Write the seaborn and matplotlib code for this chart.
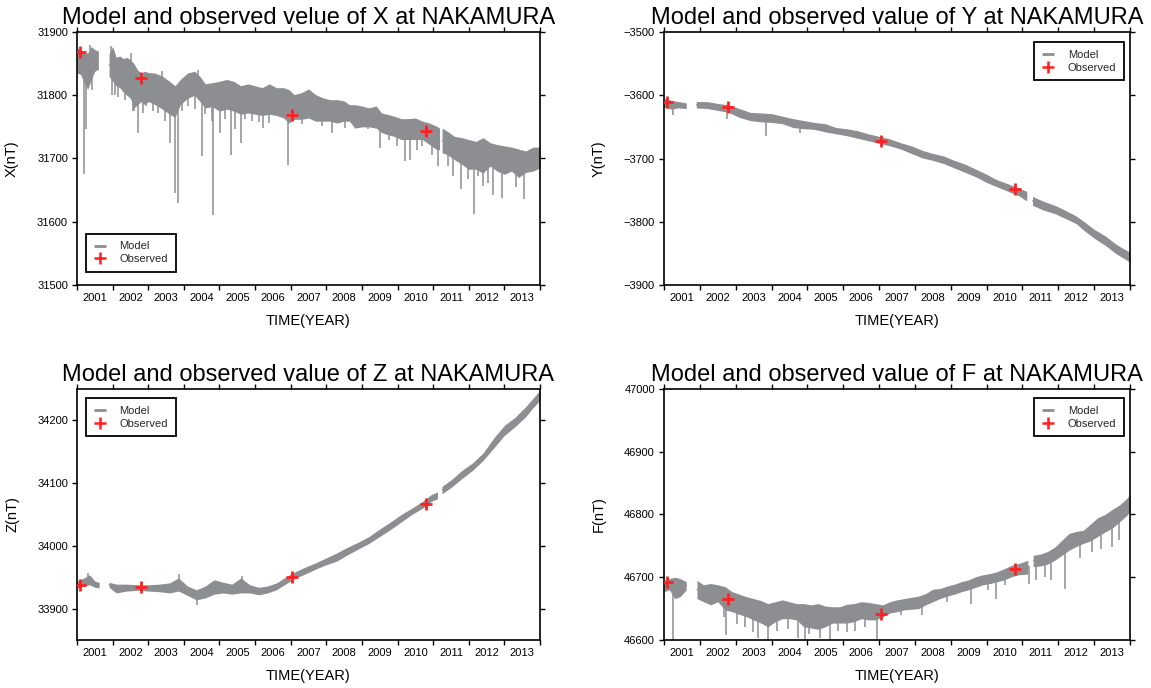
import numpy as np
import pandas as pd
import matplotlib
matplotlib.use("Agg")
import matplotlib.pyplot as plt
from matplotlib.lines import Line2D
import seaborn as sns

sns.set_theme(style="ticks")
plt.rcParams["font.family"] = ["Liberation Sans", "DejaVu Sans"]
plt.rcParams["axes.unicode_minus"] = True

# ---------------------------------------------------------------- data
year_labels = [str(y) for y in range(2001, 2014)]
data_gaps = [2001.75, 2011.21]          # recording breaks split the model trace

obs_time = [2001.09, 2002.79, 2007.04, 2010.79]

# X component
x_time = [2001.00, 2001.10, 2001.20, 2001.30, 2001.40, 2001.50, 2001.60,
          2001.90, 2002.00, 2002.10, 2002.20, 2002.30, 2002.40, 2002.50, 2002.60, 2002.70, 2002.80, 2002.90,
          2003.00, 2003.20, 2003.40, 2003.60, 2003.75, 2003.90,
          2004.10, 2004.30, 2004.45, 2004.60, 2004.80,
          2005.00, 2005.20, 2005.40, 2005.60, 2005.80,
          2006.00, 2006.20, 2006.40, 2006.60, 2006.80, 2006.95,
          2007.10, 2007.30, 2007.50, 2007.70, 2007.90,
          2008.10, 2008.30, 2008.50, 2008.65, 2008.80,
          2009.00, 2009.20, 2009.40, 2009.55, 2009.70, 2009.90,
          2010.10, 2010.30, 2010.50, 2010.70, 2010.90,
          2011.10, 2011.18,
          2011.25, 2011.40, 2011.60, 2011.80, 2012.00, 2012.20, 2012.40, 2012.60,
          2012.80, 2013.00, 2013.20, 2013.40, 2013.60, 2013.80, 2014.00]
x_upper = [31875, 31872, 31867, 31867, 31877, 31872, 31870,
           31865, 31877, 31860, 31862, 31858, 31860, 31856, 31850, 31840, 31835, 31838,
           31836, 31835, 31830, 31822, 31815, 31825,
           31835, 31838, 31830, 31818, 31820,
           31822, 31825, 31822, 31815, 31818,
           31815, 31812, 31818, 31812, 31812, 31809,
           31801, 31804, 31810, 31801, 31796,
           31793, 31793, 31791, 31785, 31785,
           31783, 31780, 31783, 31772, 31770, 31767,
           31763, 31763, 31764, 31759, 31756,
           31751, 31748,
           31748, 31743, 31735, 31733, 31730, 31727, 31733, 31725,
           31722, 31720, 31718, 31715, 31712, 31718, 31718]
x_lower = [31835, 31833, 31820, 31809, 31825, 31838, 31841,
           31830, 31822, 31815, 31812, 31805, 31800, 31795, 31780, 31785, 31790, 31785,
           31790, 31785, 31778, 31770, 31765, 31785,
           31795, 31800, 31790, 31780, 31782,
           31775, 31778, 31775, 31770, 31772,
           31770, 31768, 31770, 31768, 31764, 31756,
           31762, 31762, 31764, 31759, 31759,
           31759, 31756, 31759, 31759, 31748,
           31750, 31750, 31748, 31741, 31738, 31735,
           31730, 31730, 31730, 31730, 31722,
           31714, 31714,
           31709, 31706, 31698, 31691, 31683, 31683, 31677, 31688,
           31680, 31675, 31680, 31670, 31678, 31680, 31685]
x_spike_time = [2001.21, 2001.25, 2001.37, 2001.41, 2001.95, 2001.97, 2002.07, 2002.16,
                2002.35, 2002.53, 2002.58, 2002.60, 2002.72, 2002.86, 2002.95,
                2003.14, 2003.28, 2003.38, 2003.47, 2003.61, 2003.75, 2003.83, 2003.95,
                2004.13, 2004.32, 2004.41, 2004.52, 2004.60, 2004.78, 2004.81,
                2005.02, 2005.16, 2005.33, 2005.44, 2005.60, 2005.72, 2005.91,
                2006.10, 2006.23, 2006.39, 2006.56, 2006.92,
                2007.31, 2007.87, 2008.15, 2008.53, 2009.18, 2009.51, 2009.75, 2009.98,
                2010.21, 2010.35, 2010.54, 2010.68, 2010.96,
                2011.13, 2011.43, 2011.57, 2011.78, 2011.99, 2012.15, 2012.27, 2012.41,
                2012.55, 2012.67, 2012.94, 2013.33, 2013.55]
x_spike_value = [31675, 31746, 31880, 31809, 31878, 31801, 31801, 31798,
                 31793, 31867, 31775, 31775, 31741, 31772, 31783,
                 31775, 31772, 31838, 31760, 31725, 31646, 31630, 31775,
                 31783, 31778, 31840, 31704, 31770, 31759, 31610,
                 31741, 31762, 31705, 31746, 31725, 31762, 31760,
                 31757, 31748, 31756, 31775, 31690,
                 31754, 31751, 31741, 31748, 31746, 31717, 31730, 31719,
                 31696, 31698, 31714, 31719, 31706,
                 31688, 31688, 31672, 31651, 31667, 31612, 31672, 31656,
                 31662, 31643, 31638, 31655, 31636]
x_obs = [31868, 31827, 31768, 31744]

# Y component
y_time = [2001.00, 2001.20, 2001.40, 2001.62,
          2001.90, 2002.20, 2002.50, 2002.80, 2003.10, 2003.40, 2003.70, 2004.00,
          2004.30, 2004.60, 2004.90, 2005.20, 2005.50, 2005.80, 2006.10, 2006.40,
          2006.70, 2007.00, 2007.30, 2007.60, 2007.90, 2008.20, 2008.50, 2008.80,
          2009.10, 2009.40, 2009.70, 2010.00, 2010.30, 2010.60, 2010.90, 2011.12,
          2011.28, 2011.60, 2011.90, 2012.20, 2012.50, 2012.70, 2013.00, 2013.30,
          2013.60, 2013.80, 2014.00]
y_upper = [-3605, -3608, -3610, -3612,
           -3610, -3610, -3613, -3615, -3621, -3627, -3628, -3629,
           -3633, -3637, -3640, -3643, -3645, -3651, -3653, -3656,
           -3661, -3665, -3669, -3675, -3680, -3687, -3692, -3696,
           -3703, -3709, -3717, -3725, -3734, -3740, -3747, -3752,
           -3760, -3768, -3774, -3782, -3791, -3799, -3812, -3822,
           -3835, -3842, -3848]
y_lower = [-3619, -3622, -3620, -3621,
           -3620, -3621, -3624, -3627, -3635, -3640, -3642, -3643,
           -3645, -3651, -3653, -3654, -3658, -3661, -3664, -3668,
           -3672, -3676, -3680, -3685, -3692, -3699, -3703, -3708,
           -3715, -3722, -3729, -3738, -3745, -3752, -3759, -3767,
           -3774, -3782, -3787, -3795, -3803, -3813, -3826, -3837,
           -3850, -3857, -3864]
y_spike_time = [2001.26, 2002.76, 2003.85, 2004.80]
y_spike_value = [-3632, -3638, -3665, -3660]
y_obs = [-3611, -3618, -3673, -3748]

# Z component
z_time = [2001.00, 2001.20, 2001.35, 2001.50, 2001.62,
          2001.90, 2002.10, 2002.40, 2002.70, 2003.00, 2003.30, 2003.60, 2003.85,
          2004.10, 2004.35, 2004.60, 2004.85, 2005.10, 2005.35, 2005.60, 2005.85,
          2006.10, 2006.35, 2006.60, 2006.85, 2007.10, 2007.40, 2007.70,
          2008.00, 2008.30, 2008.60, 2008.90, 2009.20, 2009.50, 2009.80,
          2010.10, 2010.40, 2010.70, 2010.95, 2011.12,
          2011.25, 2011.50, 2011.80, 2012.10, 2012.40, 2012.70, 2013.00, 2013.30,
          2013.60, 2013.80, 2014.00]
z_upper = [33944, 33949, 33954, 33944, 33942,
           33942, 33939, 33939, 33938, 33938, 33939, 33941, 33949,
           33936, 33930, 33936, 33946, 33942, 33939, 33949, 33938,
           33934, 33936, 33941, 33950, 33958, 33966, 33973,
           33981, 33989, 33998, 34006, 34015, 34027, 34038,
           34050, 34060, 34071, 34082, 34086,
           34095, 34105, 34120, 34132, 34148, 34172, 34192, 34205,
           34222, 34235, 34248]
z_lower = [33933, 33936, 33938, 33934, 33933,
           33934, 33925, 33928, 33929, 33928, 33927, 33925, 33928,
           33921, 33914, 33917, 33923, 33925, 33923, 33925, 33925,
           33922, 33925, 33930, 33939, 33948, 33955, 33963,
           33970, 33976, 33986, 33995, 34004, 34015, 34026,
           34038, 34050, 34060, 34071, 34075,
           34083, 34093, 34107, 34120, 34136, 34156, 34176, 34190,
           34206, 34220, 34232]
z_spike_time = [2001.30, 2003.85, 2004.38, 2005.62]
z_spike_value = [33957, 33955, 33906, 33952]
z_obs = [33937, 33934, 33951, 34067]

# F (total intensity)
f_time = [2001.00, 2001.15, 2001.30, 2001.45, 2001.62,
          2001.92, 2002.10, 2002.30, 2002.50, 2002.70, 2002.90,
          2003.10, 2003.30, 2003.50, 2003.70, 2003.90,
          2004.10, 2004.30, 2004.50, 2004.70, 2004.90,
          2005.10, 2005.30, 2005.50, 2005.70, 2005.90,
          2006.10, 2006.30, 2006.50, 2006.70, 2006.90,
          2007.10, 2007.30, 2007.50, 2007.70, 2007.90,
          2008.10, 2008.30, 2008.50, 2008.70, 2008.90,
          2009.10, 2009.30, 2009.50, 2009.70, 2009.90,
          2010.10, 2010.30, 2010.50, 2010.70, 2010.90, 2011.15,
          2011.30, 2011.50, 2011.70, 2011.90, 2012.10, 2012.30, 2012.50, 2012.70,
          2012.90, 2013.10, 2013.30, 2013.50, 2013.70, 2013.90, 2014.00]
f_upper = [46695, 46698, 46700, 46698, 46693,
           46695, 46688, 46690, 46688, 46685, 46677,
           46673, 46669, 46666, 46663, 46658,
           46661, 46664, 46661, 46658, 46658,
           46656, 46658, 46654, 46653, 46653,
           46657, 46658, 46661, 46660, 46658,
           46656, 46661, 46664, 46666, 46668,
           46670, 46674, 46681, 46682, 46686,
           46689, 46693, 46696, 46701, 46704,
           46706, 46709, 46714, 46719, 46722, 46727,
           46735, 46737, 46741, 46748, 46759, 46770, 46773, 46775,
           46785, 46795, 46800, 46808, 46815, 46825, 46832]
f_lower = [46677, 46680, 46666, 46669, 46680,
           46666, 46661, 46656, 46661, 46648, 46645,
           46641, 46637, 46632, 46627, 46621,
           46629, 46634, 46634, 46632, 46621,
           46619, 46617, 46621, 46627, 46627,
           46627, 46629, 46634, 46632, 46632,
           46637, 46643, 46645, 46648, 46649,
           46650, 46656, 46661, 46666, 46670,
           46673, 46677, 46680, 46684, 46688,
           46690, 46693, 46696, 46701, 46704, 46705,
           46717, 46718, 46721, 46727, 46735, 46743, 46749, 46754,
           46758, 46765, 46772, 46778, 46788, 46798, 46805]
f_spike_time = [2001.26, 2002.67, 2002.74, 2003.05, 2003.25, 2003.47, 2003.61, 2003.89,
                2004.15, 2004.45, 2004.73, 2004.92, 2005.05, 2005.34, 2005.62, 2005.85,
                2006.10, 2006.33, 2006.60, 2006.95, 2007.60, 2008.20, 2008.90, 2009.56,
                2010.05, 2010.27, 2010.50, 2011.17, 2011.39, 2011.62, 2011.81, 2012.19,
                2012.60, 2012.95, 2013.20, 2013.50, 2013.70]
f_spike_value = [46600, 46637, 46608, 46625, 46620, 46612, 46603, 46600,
                 46615, 46618, 46603, 46600, 46610, 46603, 46600, 46615,
                 46612, 46614, 46620, 46600, 46640, 46640, 46660, 46658,
                 46680, 46666, 46688, 46690, 46696, 46701, 46696, 46682,
                 46730, 46740, 46745, 46748, 46760]
f_obs = [46693, 46665, 46641, 46713]

# ---------------------------------------------------------------- style
MODEL_GRAY = "#8d8e92"
OBS_RED = "#ff2020"
W, H = 1151, 688

fig = plt.figure(figsize=(W / 100, H / 100), dpi=100)
fig.patch.set_facecolor("white")


def add_axes_px(left, right, top, bottom):
    return fig.add_axes([left / W, 1 - bottom / H, (right - left) / W, (bottom - top) / H])


def draw_panel(ax, comp, title, t, upper, lower, spike_t, spike_v, obs_v,
               ylim, yticks, legend_loc, legend_anchor):
    t = np.asarray(t, float)
    upper = np.asarray(upper, float)
    lower = np.asarray(lower, float)
    seg = np.digitize(t, data_gaps)
    long = pd.DataFrame({"time": np.r_[t, t],
                         "value": np.r_[upper, lower],
                         "segment": np.r_[seg, seg]})
    palette = {s: MODEL_GRAY for s in np.unique(seg)}
    # model trace: daily spread shown as min/max band around the mean
    sns.lineplot(data=long, x="time", y="value", hue="segment", palette=palette,
                 estimator="mean", errorbar=("pi", 100),
                 err_kws={"alpha": 1.0, "linewidth": 0},
                 linewidth=0.8, legend=False, ax=ax, zorder=2)
    # short disturbance excursions of the model trace
    base = np.interp(spike_t, t, (upper + lower) / 2)
    ax.vlines(spike_t, base, spike_v, color=MODEL_GRAY, linewidth=1.1, zorder=2)
    # observed absolute values
    sns.scatterplot(x=obs_time, y=obs_v, marker="+", s=75, color=OBS_RED,
                    linewidth=2.0, ax=ax, zorder=5, legend=False)

    ax.set_xlim(2001, 2014)
    ax.set_ylim(*ylim)
    ax.set_yticks(yticks)
    ax.set_xticks(np.arange(2001, 2015))
    ax.set_xticks(np.arange(2001.5, 2014), minor=True)
    ax.set_xticklabels([], minor=False)
    ax.set_xticklabels(year_labels, minor=True)
    ax.tick_params(axis="x", which="major", direction="out", length=3.5, width=1.0,
                   top=True, bottom=True, labelbottom=False, color="black")
    ax.tick_params(axis="x", which="minor", length=0, labelsize=8, pad=5.5,
                   labelcolor="black")
    ax.tick_params(axis="y", which="major", direction="out", length=3.5, width=1.0,
                   left=True, right=True, labelsize=8, pad=3, color="black",
                   labelcolor="black")
    for sp in ax.spines.values():
        sp.set_visible(True)
        sp.set_color("black")
        sp.set_linewidth(1.2)
    ax.set_facecolor("white")

    ax.set_xlabel("TIME(YEAR)", fontsize=10.5, color="black")
    ax.set_ylabel(f"{comp}(nT)", fontsize=10.5, color="black")
    ax.xaxis.set_label_coords(0.5, -0.115)
    ax.yaxis.set_label_coords(-0.125, 0.5)
    ax.set_title(title, fontsize=17, color="black", y=1.0, pad=6)

    handles = [Line2D([], [], color=MODEL_GRAY, linewidth=2, solid_capstyle="butt"),
               Line2D([], [], linestyle="none", marker="+", color=OBS_RED,
                      markersize=8, markeredgewidth=1.8)]
    leg = ax.legend(handles, ["Model", "Observed"], loc=legend_loc,
                    bbox_to_anchor=legend_anchor, borderaxespad=0, fontsize=8,
                    frameon=True, fancybox=False, framealpha=1, edgecolor="black",
                    borderpad=0.7, labelspacing=0.25, handlelength=1.1,
                    handletextpad=1.2)
    leg.get_frame().set_linewidth(1.3)


ax_x = add_axes_px(77, 540, 32, 285)
ax_y = add_axes_px(664, 1130, 32, 285)
ax_z = add_axes_px(77, 540, 389, 640)
ax_f = add_axes_px(664, 1130, 389, 640)

draw_panel(ax_x, "X", "Model and observed velue of X at NAKAMURA",
           x_time, x_upper, x_lower, x_spike_time, x_spike_value, x_obs,
           (31500, 31900), np.arange(31500, 31901, 100),
           "lower left", (9 / 463, 13 / 253))
draw_panel(ax_y, "Y", "Model and observed value of Y at NAKAMURA",
           y_time, y_upper, y_lower, y_spike_time, y_spike_value, y_obs,
           (-3900, -3500), np.arange(-3900, -3499, 100),
           "upper right", (1 - 6 / 466, 1 - 10 / 253))
draw_panel(ax_z, "Z", "Model and observed value of Z at NAKAMURA",
           z_time, z_upper, z_lower, z_spike_time, z_spike_value, z_obs,
           (33850, 34250), np.arange(33900, 34201, 100),
           "upper left", (9 / 463, 1 - 9 / 251))
draw_panel(ax_f, "F", "Model and observed value of F at NAKAMURA",
           f_time, f_upper, f_lower, f_spike_time, f_spike_value, f_obs,
           (46600, 47000), np.arange(46600, 47001, 100),
           "upper right", (1 - 6 / 466, 1 - 9 / 251))

fig.savefig("out.png", dpi=100, facecolor="white")
